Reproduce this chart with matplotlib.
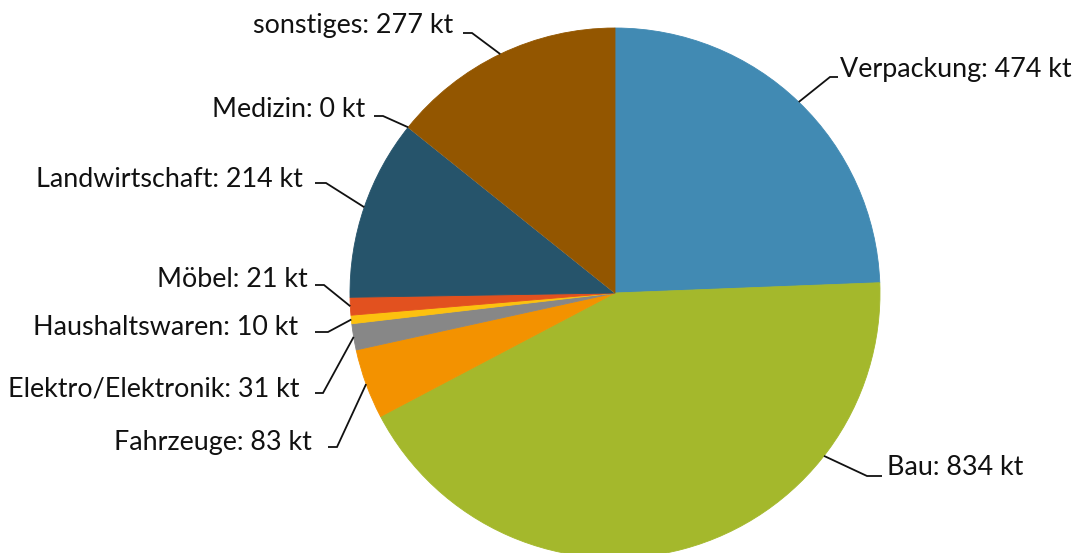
import numpy as np
import matplotlib
matplotlib.use("Agg")
import matplotlib.pyplot as plt

categories = ["Verpackung", "Bau", "Fahrzeuge", "Elektro/Elektronik", "Haushaltswaren",
              "Möbel", "Landwirtschaft", "Medizin", "sonstiges"]
values = [474, 834, 83, 31, 10, 21, 214, 0, 277]
unit = "kt"
colors = ["#418ab3", "#a4b82c", "#f39200", "#878787", "#fcc10f",
          "#e2511f", "#26546b", "#c0c0c0", "#935600"]

W, H = 1074, 553
fig = plt.figure(figsize=(W / 100, H / 100), dpi=100)
ax = fig.add_axes([0, 0, 1, 1])

def iy(y):
    return H - y

cx, cy, R = 615, iy(293), 265
wedges, _ = ax.pie(values, colors=colors, startangle=90, counterclock=False,
                   center=(cx, cy), radius=R, frame=True,
                   wedgeprops=dict(linewidth=0.6))
for w, c in zip(wedges, colors):
    w.set_edgecolor(c)
ax.set_xlim(0, W)
ax.set_ylim(0, H)
ax.set_aspect("equal")
ax.axis("off")

# layout: (text x, baseline y, ha, knee x, end x, line y, anchor fraction)
layout = {
    "Verpackung":         (840, 77, "left", 830, 838, 77, 0.5),
    "Bau":                (887, 475, "left", 867, 882, 476, 0.74),
    "Fahrzeuge":          (312, 450, "right", 337, 328, 447, 0.5),
    "Elektro/Elektronik": (300, 397, "right", 323, 315, 393, 0.5),
    "Haushaltswaren":     (298, 335, "right", 328, 315, 332, 0.5),
    "Möbel":              (308, 287, "right", 324, 315, 285, 0.5),
    "Landwirtschaft":     (303, 187, "right", 326, 315, 183, 0.5),
    "Medizin":            (365, 117, "right", 383, 374, 116, 0.5),
    "sonstiges":          (453, 33, "right", 472, 463, 33, 0.5),
}

for w, cat, v in zip(wedges, categories, values):
    tx, ty, ha, kx, ex, ly, frac = layout[cat]
    ang = np.deg2rad(w.theta1 + frac * (w.theta2 - w.theta1))
    px, py = cx + R * np.cos(ang), cy + R * np.sin(ang)
    ax.plot([px, kx, ex], [py, iy(ly), iy(ly)], color="#111111", lw=1.3,
            solid_capstyle="butt", solid_joinstyle="miter", clip_on=False)
    ax.text(tx, iy(ty), f"{cat}: {v} {unit}", ha=ha, va="baseline",
            fontsize=19.4, family=["Lato", "DejaVu Sans"], color="#111111")

fig.savefig("out.png", dpi=100)
